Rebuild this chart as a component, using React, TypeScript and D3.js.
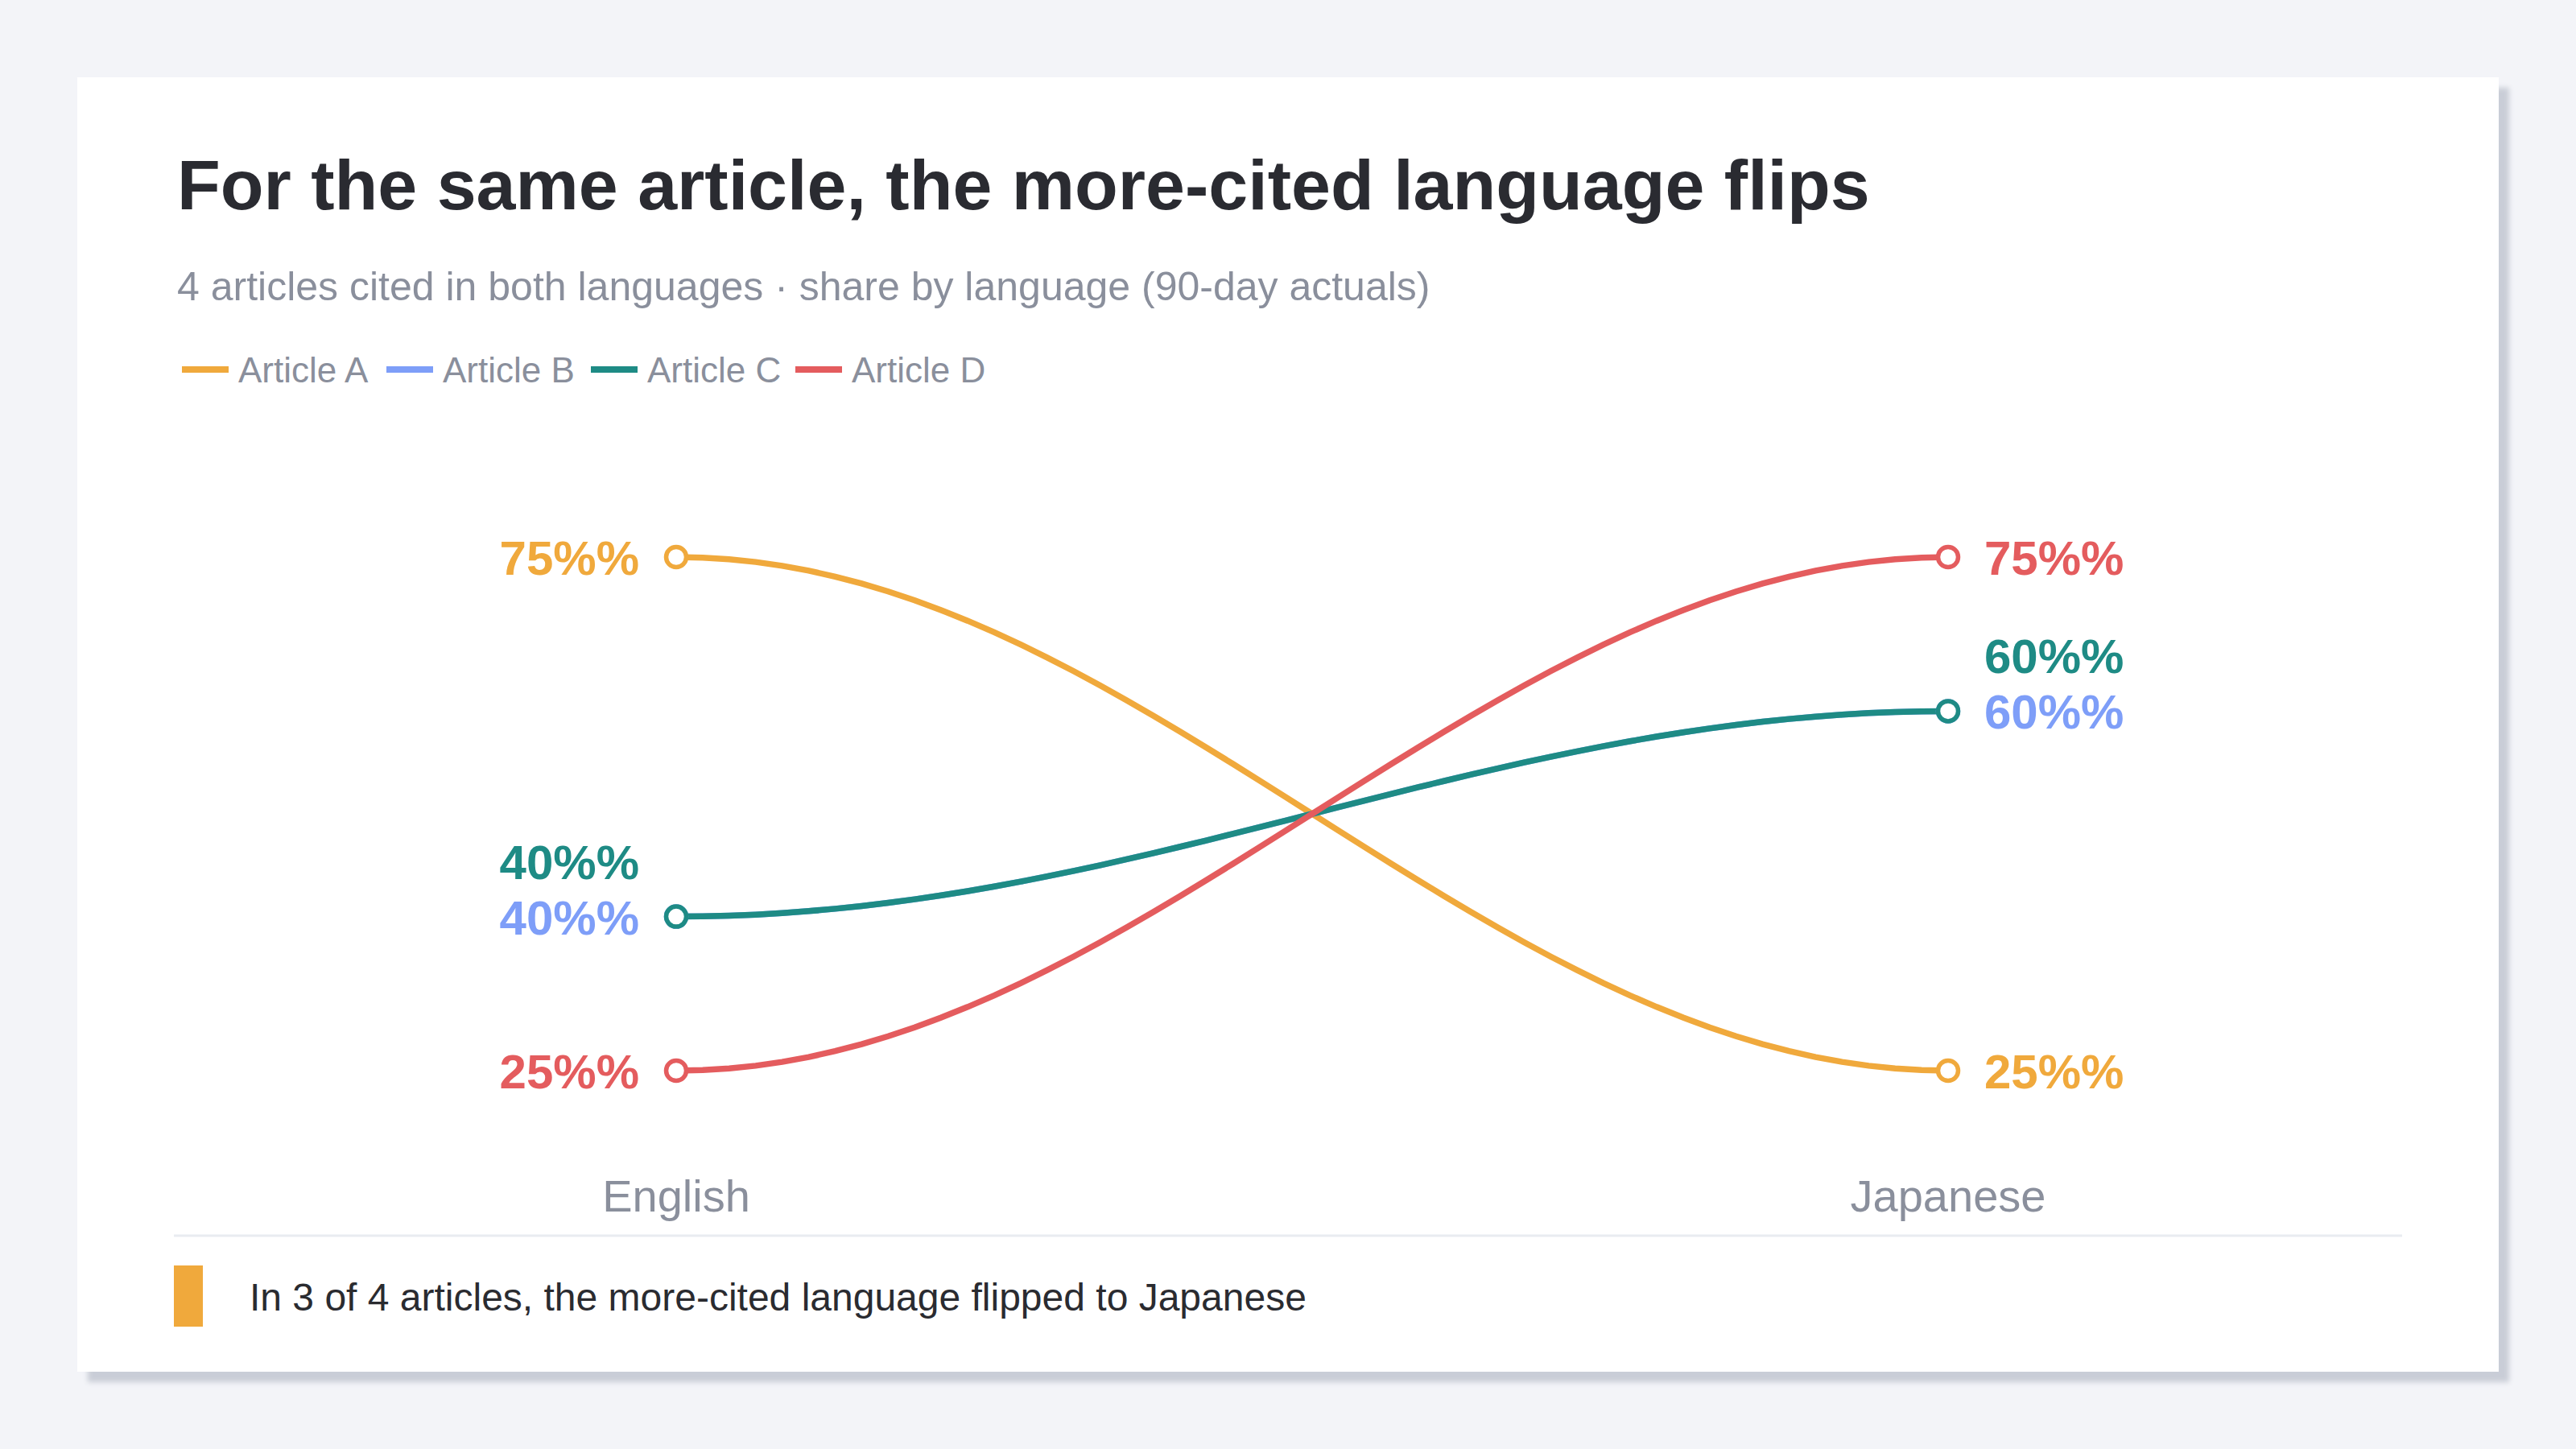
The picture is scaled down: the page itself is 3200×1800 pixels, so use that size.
import * as d3 from 'd3';

// share of citations by language, per article
const languages = ['English', 'Japanese'];
const articles = ['Article A', 'Article B', 'Article C', 'Article D'];
const englishShare = [75, 40, 40, 25];
const japaneseShare = [25, 60, 60, 75];
const colors = ['#F0A93C', '#7E9EF8', '#1E8B85', '#E45C5E'];

const title = 'For the same article, the more-cited language flips';
const subtitle = '4 articles cited in both languages · share by language (90-day actuals)';
const footnote = 'In 3 of 4 articles, the more-cited language flipped to Japanese';

const W = 3200;
const H = 1800;
const card = { x: 96, y: 96, w: 3008, h: 1608 };
const pad = 120;
const font = '"Liberation Sans", Arial, Helvetica, sans-serif';

const series = articles.map((name, i) => ({
  name,
  color: colors[i],
  values: [englishShare[i], japaneseShare[i]],
}));

// slope from one column to the next, eased so both ends leave flat
function easedPath(x0: number, y0: number, x1: number, y1: number) {
  const steps = 48;
  const pts: [number, number][] = d3.range(steps + 1).map(k => {
    const t = k / steps;
    return [x0 + (x1 - x0) * t, y0 + (y1 - y0) * d3.easeSinInOut(t)];
  });
  return d3.line()(pts) || '';
}

// push overlapping labels upward, one row at a time
function placeLabels(ys: number[], gap: number) {
  const placed: number[] = [];
  return ys.map(y => {
    let pos = y;
    while (placed.some(p => Math.abs(p - pos) < gap - 1)) pos -= gap;
    placed.push(pos);
    return pos;
  });
}

export default function App() {
  const x = d3.scalePoint<string>().domain(languages).range([840, 2420]);
  const y = d3.scaleLinear().domain([25, 75]).range([1330, 692]);

  const legendX = card.x + pad;
  const legendStep = 254;

  const leftY = placeLabels(series.map(s => y(s.values[0])), 69);
  const rightY = placeLabels(series.map(s => y(s.values[1])), 69);

  return (
    <div style={{ position: 'absolute', left: 0, top: 0, width: W, height: H, background: '#F3F4F8' }}>
      <svg width={W} height={H} style={{ display: 'block' }} fontFamily={font}>
        <defs>
          <filter id="cardShadow" x="-5%" y="-5%" width="110%" height="110%">
            <feDropShadow dx="13" dy="13" stdDeviation="3" floodColor="#C9CDD7" floodOpacity="1" />
          </filter>
        </defs>
        <rect x={card.x} y={card.y} width={card.w} height={card.h} fill="#FFFFFF" filter="url(#cardShadow)" />

        <text x={card.x + pad + 4} y={260} fontSize={88} fontWeight={700} fill="#2A2B31">{title}</text>
        <text x={card.x + pad + 4} y={373} fontSize={50} fill="#8A8F9C">{subtitle}</text>

        {series.map((s, i) => (
          <g key={s.name} transform={`translate(${legendX + i * legendStep},459)`}>
            <rect x={10} y={-4} width={58} height={8} fill={s.color} />
            <text x={80} y={16} fontSize={44} fill="#8A8F9C">{s.name}</text>
          </g>
        ))}

        {series.map(s => (
          <path
            key={s.name}
            d={easedPath(x(languages[0])!, y(s.values[0]), x(languages[1])!, y(s.values[1]))}
            fill="none"
            stroke={s.color}
            strokeWidth={7.5}
          />
        ))}

        {series.map(s => (
          <g key={s.name + '-pts'}>
            {s.values.map((v, j) => (
              <circle key={j} cx={x(languages[j])} cy={y(v)} r={12.5} fill="#FFFFFF" stroke={s.color} strokeWidth={5.5} />
            ))}
          </g>
        ))}

        {series.map((s, i) => (
          <g key={s.name + '-labels'} fontSize={60} fontWeight={700} fill={s.color}>
            <text x={x(languages[0])! - 46} y={leftY[i] + 22} textAnchor="end">{`${s.values[0]}%%`}</text>
            <text x={x(languages[1])! + 45} y={rightY[i] + 22}>{`${s.values[1]}%%`}</text>
          </g>
        ))}

        {languages.map(l => (
          <text key={l} x={x(l)} y={1505} fontSize={56} fill="#8A8F9C" textAnchor="middle">{l}</text>
        ))}

        <line x1={card.x + pad} x2={card.x + card.w - pad} y1={1535} y2={1535} stroke="#E9ECF1" strokeWidth={3} />

        <rect x={card.x + pad} y={1572} width={36} height={76} fill="#F0A93C" />
        <text x={310} y={1628} fontSize={48} fill="#2A2B30">{footnote}</text>
      </svg>
    </div>
  );
}
